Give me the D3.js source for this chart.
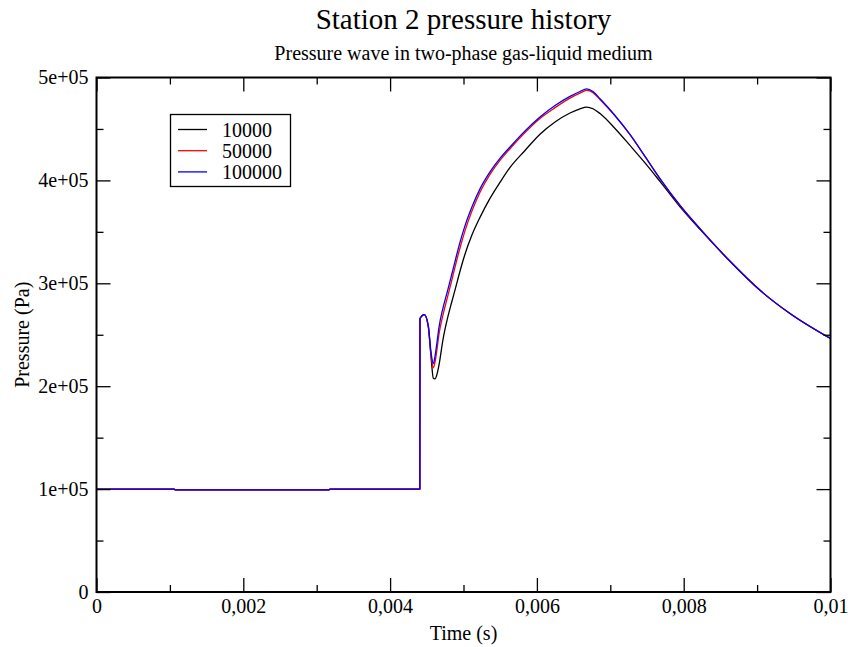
<!DOCTYPE html>
<html>
<head>
<meta charset="utf-8">
<script src="https://cdn.jsdelivr.net/npm/d3@7"></script>
<style>
  html, body { margin: 0; padding: 0; background: #fff; }
  svg { display: block; font-family: "Liberation Serif", "Times New Roman", serif; }
</style>
</head>
<body>
<svg id="chart" width="851" height="647"></svg>
<script>
// Time samples (s), shared by all three runs
const time = [0, 0.00106, 0.00107, 0.00317, 0.00318, 0.004405, 0.004407, 0.004466,
  0.00452, 0.004557, 0.004589, 0.004612, 0.004639, 0.004666, 0.004721, 0.004779,
  0.004837, 0.004894, 0.004952, 0.00502, 0.005116, 0.005225, 0.005361, 0.005497,
  0.005634, 0.005838, 0.006042, 0.006247, 0.006451, 0.006587, 0.006678, 0.006764,
  0.00686, 0.007064, 0.007268, 0.007473, 0.007677, 0.00795, 0.008222, 0.008631,
  0.00904, 0.009448, 0.01];

// Pressure (Pa) at station 2 for each run
const p10000 = [100000, 100000, 99300, 99300, 100000, 100000, 265700, 269600,
  258300, 229100, 207800, 207200, 211700, 220400, 245600, 265100,
  281100, 296100, 311700, 328200, 347100, 364100, 382500, 398100,
  412600, 429100, 444900, 456800, 465500, 469600, 471200, 469600,
  465000, 450500, 434000, 417000, 399000, 374300, 352400, 321400,
  293200, 270600, 246300];
const p50000 = [100000, 100000, 99300, 99300, 100000, 100000, 265700, 269600,
  257800, 230500, 217800, 223500, 236000, 250500, 269500, 285800,
  302000, 318500, 334300, 351000, 370400, 388500, 405800, 419400,
  430800, 446500, 460200, 470700, 480000, 484800, 487400, 485300,
  478600, 462700, 444400, 423100, 401500, 375600, 353100, 321400,
  293200, 270600, 246300];
const p100000 = [100000, 100000, 99300, 99300, 100000, 100000, 265700, 269600,
  259200, 233300, 222000, 229100, 242700, 257300, 276200, 291600,
  307800, 324000, 339800, 355800, 374300, 391800, 408300, 421400,
  432500, 448100, 461600, 472800, 481600, 486400, 489000, 486400,
  479300, 463100, 444700, 423300, 401700, 375700, 353100, 321400,
  293200, 270600, 246300];

const seriesNames = ["10000", "50000", "100000"];
const seriesColors = ["#000000", "#ff0000", "#0000ff"];
const seriesValues = [p10000, p50000, p100000];

const xTicks = [0, 0.002, 0.004, 0.006, 0.008, 0.01];
const xTickLabels = ["0", "0,002", "0,004", "0,006", "0,008", "0,01"];
const yTicks = [0, 100000, 200000, 300000, 400000, 500000];
const yTickLabels = ["0", "1e+05", "2e+05", "3e+05", "4e+05", "5e+05"];
const xMinor = [0.001, 0.003, 0.005, 0.007, 0.009];
const yMinor = [50000, 150000, 250000, 350000, 450000];

const svg = d3.select("#chart");
const m = { left: 96.5, right: 830.5, top: 77.5, bottom: 592 };

const x = d3.scaleLinear().domain([0, 0.01]).range([m.left, m.right]);
const y = d3.scaleLinear().domain([0, 500000]).range([m.bottom, m.top]);

// Titles
svg.append("text").attr("x", (m.left + m.right) / 2).attr("y", 29)
  .attr("text-anchor", "middle").attr("font-size", 29).text("Station 2 pressure history");
svg.append("text").attr("x", (m.left + m.right) / 2).attr("y", 60)
  .attr("text-anchor", "middle").attr("font-size", 20).text("Pressure wave in two-phase gas-liquid medium");

// Curves
const line = d3.line().x(d => x(d[0])).y(d => y(d[1])).curve(d3.curveMonotoneX);
const plot = svg.append("g");
seriesValues.forEach((vals, i) => {
  plot.append("path")
    .datum(time.map((t, k) => [t, vals[k]]))
    .attr("fill", "none")
    .attr("stroke", seriesColors[i])
    .attr("stroke-width", 1.3)
    .attr("stroke-linejoin", "round")
    .attr("d", line);
});

// Axes: ticks point inward on all four sides
const major = 14, minor = 7;
const fmtX = (d, i) => xTickLabels[i];
const fmtY = (d, i) => yTickLabels[i];

const axBottom = svg.append("g").attr("transform", `translate(0,${m.bottom})`);
axBottom.call(d3.axisBottom(x).tickValues(xTicks).tickFormat(fmtX).tickSize(-major).tickPadding(7));
axBottom.append("g").call(d3.axisBottom(x).tickValues(xMinor).tickFormat("").tickSize(-minor));

const axTop = svg.append("g").attr("transform", `translate(0,${m.top})`);
axTop.call(d3.axisTop(x).tickValues(xTicks).tickFormat("").tickSize(-major));
axTop.append("g").call(d3.axisTop(x).tickValues(xMinor).tickFormat("").tickSize(-minor));

const axLeft = svg.append("g").attr("transform", `translate(${m.left},0)`);
axLeft.call(d3.axisLeft(y).tickValues(yTicks).tickFormat(fmtY).tickSize(-major).tickPadding(8));
axLeft.append("g").call(d3.axisLeft(y).tickValues(yMinor).tickFormat("").tickSize(-minor));

const axRight = svg.append("g").attr("transform", `translate(${m.right},0)`);
axRight.call(d3.axisRight(y).tickValues(yTicks).tickFormat("").tickSize(-major));
axRight.append("g").call(d3.axisRight(y).tickValues(yMinor).tickFormat("").tickSize(-minor));

svg.selectAll(".domain").remove();
svg.selectAll(".tick line").attr("stroke", "#000").attr("stroke-width", 1.3);
svg.selectAll(".tick text").attr("font-family", "Liberation Serif, serif").attr("font-size", 20).attr("fill", "#000");

// Frame
svg.append("rect").attr("x", m.left).attr("y", m.top)
  .attr("width", m.right - m.left).attr("height", m.bottom - m.top)
  .attr("fill", "none").attr("stroke", "#000").attr("stroke-width", 2);

// Axis labels
svg.append("text").attr("x", (m.left + m.right) / 2).attr("y", 640)
  .attr("text-anchor", "middle").attr("font-size", 20).text("Time (s)");
svg.append("text").attr("transform", `translate(29,${(m.top + m.bottom) / 2}) rotate(-90)`)
  .attr("text-anchor", "middle").attr("font-size", 20).text("Pressure (Pa)");

// Legend
const lg = svg.append("g");
lg.append("rect").attr("x", 170.5).attr("y", 114.5).attr("width", 120).attr("height", 72)
  .attr("fill", "#fff").attr("stroke", "#000").attr("stroke-width", 1.3);
seriesNames.forEach((name, i) => {
  const yy = 129.5 + i * 21.2;
  lg.append("line").attr("x1", 178).attr("x2", 207).attr("y1", yy).attr("y2", yy)
    .attr("stroke", seriesColors[i]).attr("stroke-width", 1.3);
  lg.append("text").attr("x", 222).attr("y", yy + 7).attr("font-size", 20).text(name);
});
</script>
</body>
</html>
